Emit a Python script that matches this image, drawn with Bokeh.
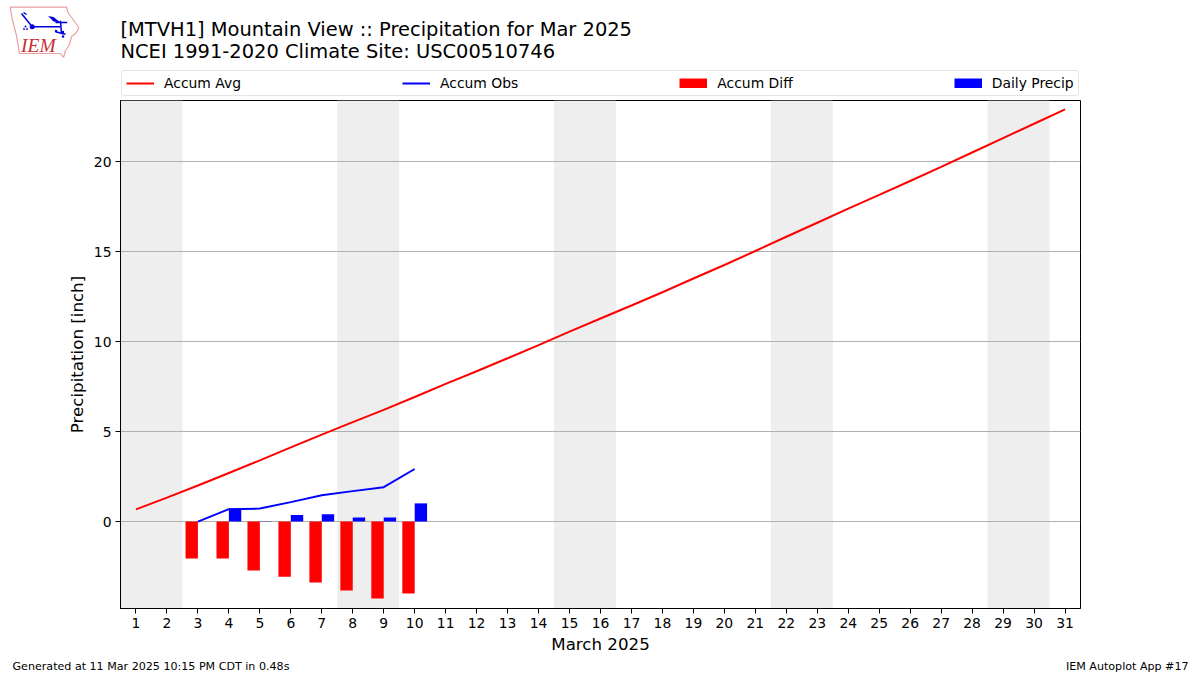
from bokeh.plotting import figure
from bokeh.embed import file_html
from bokeh.resources import INLINE
from bokeh.layouts import column
from bokeh.core.properties import value
from bokeh.models import BoxAnnotation, Legend, LegendItem, Range1d, FixedTicker

title_lines = ["[MTVH1] Mountain View :: Precipitation for Mar 2025", "NCEI 1991-2020 Climate Site: USC00510746"]
days = list(range(1, 32))
accum_avg = [0.68, 1.33, 2.0, 2.7, 3.4, 4.12, 4.83, 5.52, 6.2, 6.92, 7.65, 8.35, 9.07, 9.8, 10.55, 11.28, 12.0, 12.74,
             13.5, 14.25, 15.03, 15.82, 16.6, 17.38, 18.15, 18.92, 19.7, 20.5, 21.3, 22.1, 22.9]
obs_days = [3, 4, 5, 6, 7, 8, 9, 10]
accum_obs = [0.0, 0.69, 0.72, 1.08, 1.46, 1.69, 1.91, 2.92]
accum_diff = [-2.05, -2.05, -2.72, -3.06, -3.39, -3.83, -4.27, -4.0]
daily_precip = [0.0, 0.72, 0.02, 0.36, 0.4, 0.22, 0.22, 1.01]
weekend_starts = [1, 8, 15, 22, 29]
y_ticks = [0, 5, 10, 15, 20]
legend_labels = ["Accum Avg", "Accum Obs", "Accum Diff", "Daily Precip"]
footer_left = "Generated at 11 Mar 2025 10:15 PM CDT in 0.48s"
footer_right = "IEM Autoplot App #17"
BAR_W = 0.4

FRAME_L, FRAME_R, FRAME_T, FRAME_B = 120, 1080, 100, 608
W, H = 1200, 675
TOP_H, FOOT_H = 96, 15
MAIN_B = H - FOOT_H


def strip(y_start, y_end):
    f = figure(width=W, height=y_end - y_start, output_backend="svg", toolbar_location=None,
               x_range=Range1d(0, W), y_range=Range1d(y_end, y_start),
               x_axis_type=None, y_axis_type=None, frame_align=False,
               min_border_left=0, min_border_right=0, min_border_top=0, min_border_bottom=0)
    f.outline_line_color = None
    f.grid.visible = False
    return f


def text(f, s, px, py, size, align="left", color="black", font="DejaVu Sans", style="normal"):
    f.text([px], [py], text=[s], text_font=value(font), text_font_size=size, text_align=align,
           text_baseline="middle", text_color=color, text_font_style=style)


# header strip: logo, titles, legend
top = strip(0, TOP_H)
text(top, title_lines[0], 120, 29, "19.44px")
text(top, title_lines[1], 120, 51, "19.44px")
top.patch([9.7, 66, 67.5, 71, 78.3, 76, 71, 69, 65, 63, 60, 19, 16, 12],
          [6.7, 6.5, 12, 17, 27, 32, 36, 44, 50, 57, 53, 53, 35, 20],
          fill_alpha=0, line_color="#e8a0a0", line_width=1.2)
top.multi_line([[31.7, 60], [23, 31.7], [21, 23.3], [23, 26], [55, 66.7], [60, 61], [55, 65]],
               [[26.3, 26.3], [15.5, 26.3], [13, 16], [12, 14], [22, 22], [20.3, 33.7], [31.3, 33.7]],
               line_color="#0000dd", line_width=1.5)
top.patch([47.7, 53, 60, 53], [15.5, 16.5, 22, 21], fill_color="#0000dd", line_color=None)
top.circle([31.7], [26.3], radius=2.5, fill_color="#0000dd", line_color=None)
top.scatter([23.5, 26.5, 25], [28.5, 28.5, 26], marker="triangle", size=2.5, fill_color="#0000dd", line_color=None)
top.scatter([55.5, 62.5, 62.5], [30.5, 31.5, 36], marker="circle", size=2.5, fill_color="#0000dd", line_color=None)
text(top, "IEM", 20.5, 45, "19.5px", color="#c8303a", font="Liberation Serif", style="italic")

# legend keys: off-range placeholders in the header strip, styled as the chart's series
OFF = [-50, -40]
key_avg = top.line(OFF, OFF, line_color="#ff0000", line_width=2)
key_obs = top.line(OFF, OFF, line_color="#0000ff", line_width=2)
key_diff = top.line(OFF, OFF, line_color="#ff0000", line_width=10)
key_prec = top.line(OFF, OFF, line_color="#0000ff", line_width=10)
legend = Legend(items=[LegendItem(label=l, renderers=[r]) for l, r in zip(legend_labels, (key_avg, key_obs, key_diff, key_prec))],
                orientation="horizontal", location=(FRAME_L + 1, 0.5), spacing=161,
                label_text_font="DejaVu Sans", label_text_font_size="13.9px", label_text_color="black",
                glyph_width=28, glyph_height=10, label_standoff=10, padding=4, margin=0,
                border_line_color="#cccccc", border_line_width=1, background_fill_alpha=0.8)
if "border_radius" in Legend.properties():
    legend.border_radius = 3
top.add_layout(legend, "center")

# main chart
p = figure(width=W, height=MAIN_B - TOP_H, output_backend="svg", toolbar_location=None,
           x_range=Range1d(0.5, 31.5), y_range=Range1d(-4.83, 23.39), frame_align=False,
           min_border_left=FRAME_L, min_border_right=W - FRAME_R,
           min_border_top=FRAME_T - TOP_H, min_border_bottom=MAIN_B - FRAME_B,
           background_fill_color="white", border_fill_color="white")
p.outline_line_color = "black"
p.outline_line_width = 1
p.outline_line_alpha = 1
p.xgrid.visible = False
p.ygrid.grid_line_color = "#b0b0b0"
p.ygrid.grid_line_width = 1
p.ygrid.level = "underlay"

for ax, lab in ((p.xaxis[0], "March 2025"), (p.yaxis[0], "Precipitation [inch]")):
    ax.axis_label = lab
    ax.axis_label_text_font = "DejaVu Sans"
    ax.axis_label_text_font_size = "16.67px"
    ax.axis_label_text_font_style = "normal"
    ax.axis_label_text_color = "black"
    ax.major_label_text_font = "DejaVu Sans"
    ax.major_label_text_font_size = "13.9px"
    ax.major_label_text_color = "black"
    ax.major_tick_out = 5
    ax.major_tick_in = 0
    ax.minor_tick_out = 0
    ax.minor_tick_in = 0
    ax.major_tick_line_color = "black"
    ax.axis_line_color = "black"
p.xaxis[0].ticker = FixedTicker(ticks=days)
p.yaxis[0].ticker = FixedTicker(ticks=y_ticks)
p.xaxis[0].axis_label_standoff = 4
p.yaxis[0].axis_label_standoff = 4
p.xaxis[0].major_label_standoff = 4
p.yaxis[0].major_label_standoff = 4

for d in weekend_starts:
    p.add_layout(BoxAnnotation(left=d - 0.5, right=d + 1.5, fill_color="#eeeeee", fill_alpha=1,
                               line_color=None, level="image"))

p.line(days, accum_avg, line_color="#ff0000", line_width=2)
p.line(obs_days, accum_obs, line_color="#0000ff", line_width=2)
p.vbar(x=[d - BAR_W / 2 for d in obs_days], top=accum_diff, bottom=0, width=BAR_W,
       fill_color="#ff0000", line_color=None)
p.vbar(x=[d + BAR_W / 2 for d in obs_days], top=daily_precip, bottom=0, width=BAR_W,
       fill_color="#0000ff", line_color=None)

# footer strip
foot = strip(MAIN_B, H)
text(foot, footer_left, 12, 666, "11.1px")
text(foot, footer_right, 1188, 666, "11.1px", align="right")

open("out.html", "w").write(file_html(column(top, p, foot, spacing=0), INLINE))
